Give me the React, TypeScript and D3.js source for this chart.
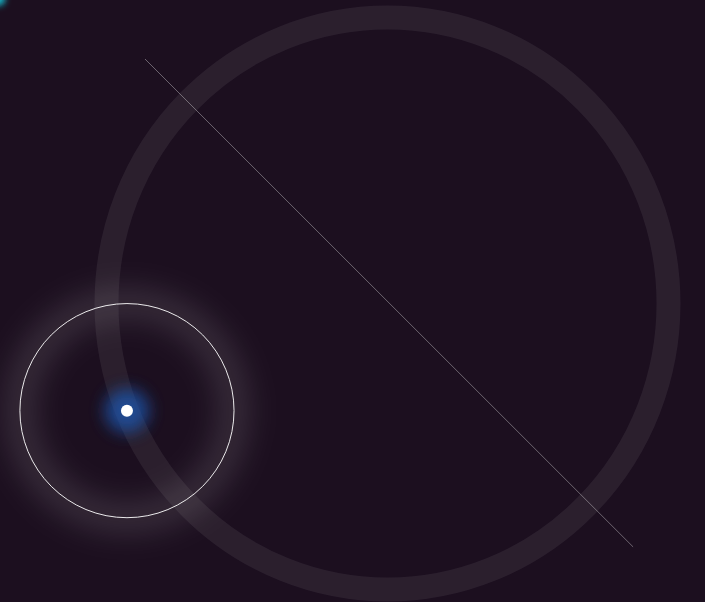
import React, { useEffect, useRef } from 'react';
import * as d3 from 'd3';

// unit-circle phase view (data units, y up)
const ringRadius = [1];
const phaseDeg = [202];
const probeRadius = [0.381];
const axisEnds = [
  { x: -0.863, y: 0.855 },
  { x: 0.874, y: -0.851 },
];
const cornerMarker = [{ x: -1.385, y: 1.065 }];

const W = 705;
const H = 602;

export default function App() {
  const svgRef = useRef<SVGSVGElement>(null);

  useEffect(() => {
    if (!svgRef.current) return;
    const svg = d3.select(svgRef.current);
    svg.selectAll('*').remove();

    const x = d3.scaleLinear().domain([-1, 1]).range([106.5, 668.5]);
    const y = d3.scaleLinear().domain([-1, 1]).range([589.5, 17.5]);
    const rx = (v: number) => x(v) - x(0);
    const ry = (v: number) => y(0) - y(v);

    const defs = svg.append('defs');
    const blur = (id: string, sd: number) =>
      defs.append('filter').attr('id', id)
        .attr('x', '-50%').attr('y', '-50%').attr('width', '200%').attr('height', '200%')
        .append('feGaussianBlur').attr('stdDeviation', sd);
    blur('glowSoft', 13);
    blur('glowBlue', 8);
    blur('glowCorner', 3);

    svg.append('rect').attr('width', W).attr('height', H).attr('fill', '#1c0f1f');

    // main ring
    svg.append('ellipse')
      .attr('cx', x(0)).attr('cy', y(0))
      .attr('rx', rx(ringRadius[0])).attr('ry', ry(ringRadius[0]))
      .attr('fill', 'none')
      .attr('stroke', '#ffffff').attr('stroke-opacity', 0.065)
      .attr('stroke-width', 24);

    // diagonal axis
    svg.append('line')
      .attr('x1', x(axisEnds[0].x)).attr('y1', y(axisEnds[0].y))
      .attr('x2', x(axisEnds[1].x)).attr('y2', y(axisEnds[1].y))
      .attr('stroke', '#ffffff').attr('stroke-opacity', 0.36).attr('stroke-width', 1);

    // phase point
    const p = (phaseDeg[0] * Math.PI) / 180;
    const px = x(Math.cos(p) * ringRadius[0]);
    const py = y(Math.sin(p) * ringRadius[0]);

    svg.append('circle')
      .attr('cx', px).attr('cy', py).attr('r', rx(probeRadius[0]))
      .attr('fill', 'none')
      .attr('stroke', '#ffffff').attr('stroke-opacity', 0.1)
      .attr('stroke-width', 36)
      .attr('filter', 'url(#glowSoft)');

    svg.append('circle')
      .attr('cx', px).attr('cy', py).attr('r', rx(probeRadius[0]))
      .attr('fill', 'none')
      .attr('stroke', '#ffffff').attr('stroke-opacity', 0.9)
      .attr('stroke-width', 1);

    svg.append('circle')
      .attr('cx', px).attr('cy', py).attr('r', 22)
      .attr('fill', '#1d55aa').attr('opacity', 0.8)
      .attr('filter', 'url(#glowBlue)');

    svg.append('circle')
      .attr('cx', px).attr('cy', py).attr('r', 6)
      .attr('fill', '#ffffff');

    // corner marker (off-canvas)
    svg.selectAll('circle.corner')
      .data(cornerMarker)
      .enter()
      .append('circle')
      .attr('class', 'corner')
      .attr('cx', d => x(d.x)).attr('cy', d => y(d.y)).attr('r', 7)
      .attr('fill', '#12b5c8')
      .attr('filter', 'url(#glowCorner)');
  }, []);

  return (
    <svg
      ref={svgRef}
      width={W}
      height={H}
      style={{ position: 'fixed', left: 0, top: 0, display: 'block' }}
    />
  );
}
